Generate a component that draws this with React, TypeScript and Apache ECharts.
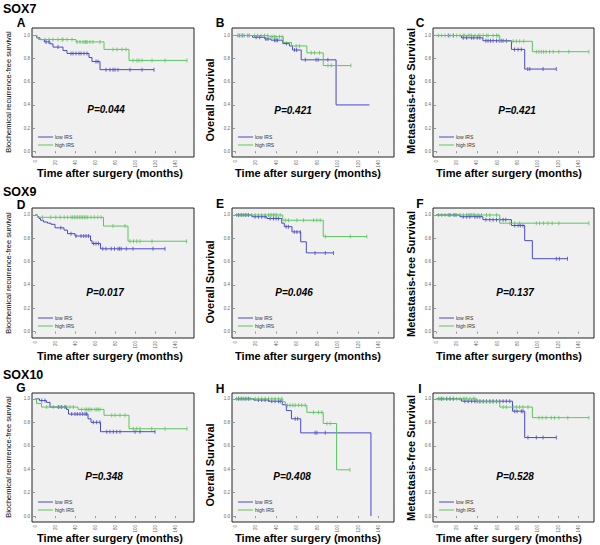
import React, { useEffect, useRef } from "react";
import * as echarts from "echarts";

// ---- tick labels / texts ----
const xTicks = [0, 20, 40, 60, 80, 100, 120, 140];
const yTicks = [0, 0.2, 0.4, 0.6, 0.8, 1.0];
const groupLabels = ["low IRS", "high IRS"];
const markerNames = ["SOX7", "SOX9", "SOX10"];
const panelLetters = ["A", "B", "C", "D", "E", "F", "G", "H", "I"];
const pValues = ["P=0.044", "P=0.421", "P=0.421", "P=0.017", "P=0.046", "P=0.137", "P=0.348", "P=0.408", "P=0.528"];
const yTitles = ["Biochemical recurrence-free survival", "Overall Survival", "Metastasis-free Survival"];
const xTitle = "Time after surgery (months)";

// ---- Kaplan-Meier steps [month, survival] and censored times (months) ----
// SOX7
const lowA = [[0, 1], [1.7, 0.98], [5, 0.965], [9.3, 0.945], [15, 0.928], [18, 0.9], [28, 0.87], [32, 0.845], [54, 0.81], [57, 0.775], [65, 0.705], [119, 0.705]];
const lowACens = [11, 14, 23, 36, 38, 41, 44, 46, 49, 52, 61, 63, 71, 75, 78, 80, 83, 95, 107, 119];
const highA = [[0, 1], [2, 0.98], [3.5, 0.965], [41, 0.945], [69, 0.88], [94, 0.785], [152, 0.785]];
const highACens = [10, 14, 18, 23, 27, 28, 32, 37, 42, 45, 48, 50, 51, 52, 55, 58, 65, 78, 82, 87, 91, 98, 102, 104, 107, 117, 130, 152];

const lowB = [[0, 1], [17, 0.985], [29, 0.97], [35, 0.96], [46.5, 0.93], [53, 0.91], [56, 0.875], [64.5, 0.79], [98.5, 0.4], [131, 0.4]];
const lowBCens = [4, 7.5, 12.5, 20.5, 24, 30, 32, 38.5, 40, 41.5, 50, 58, 60, 68.5, 79, 81, 90.5];
const highB = [[0, 1], [33, 0.99], [47, 0.94], [55, 0.91], [70, 0.85], [86, 0.74], [113, 0.74]];
const highBCens = [2.6, 5.9, 9.1, 14, 18.9, 22, 25.4, 28.7, 31.9, 35.2, 36.8, 38.4, 40, 43.3, 45.9, 59.6, 62.9, 74.3, 77.5, 82.4, 90.6, 93.8, 113];

const lowC = [[0, 1], [25, 0.98], [46, 0.955], [74, 0.88], [87, 0.71], [118, 0.71]];
const lowCCens = [12, 17, 26.7, 30, 34.9, 37, 40.4, 43, 48.9, 51, 53.4, 56, 59.3, 62, 64, 65.8, 69, 77, 80.5, 83.7, 90, 92, 105, 118];
const highC = [[0, 1], [62.5, 0.95], [94.5, 0.86], [150, 0.86]];
const highCCens = [2.3, 5.5, 8.8, 13.7, 16.9, 20.2, 23.5, 26.7, 28.3, 31.6, 33.2, 34.9, 38.1, 41.4, 43, 46.3, 49.5, 51.1, 56, 59.3, 61, 69, 75.6, 78.8, 82, 86, 98.4, 101, 103.3, 105.5, 108, 111.4, 115, 120.5, 130.3, 150];

// SOX9
const lowD = [[0, 1], [2.5, 0.985], [4, 0.97], [5.5, 0.955], [8.5, 0.94], [12.5, 0.93], [16, 0.92], [20, 0.89], [29, 0.87], [32.5, 0.84], [40, 0.82], [55.5, 0.78], [57, 0.755], [65.5, 0.71], [130, 0.71]];
const lowDCens = [25.8, 36, 41, 46, 48.7, 51, 53.4, 58.7, 61, 63.4, 67.8, 71, 76.2, 79.5, 83, 84.6, 86.2, 91.3, 98, 118, 130];
const highD = [[0, 1], [2.5, 0.98], [68.5, 0.905], [93, 0.775], [151.5, 0.775]];
const highDCens = [7.4, 15.8, 20.8, 25.2, 29.2, 32.6, 36, 37.6, 39.3, 40.9, 42.6, 44.3, 46, 47.6, 49.3, 51, 52.7, 56, 59.4, 62.8, 66.1, 78, 90, 95, 98.5, 101.7, 105, 117, 151.5];

const lowE = [[0, 1], [16.5, 0.985], [31, 0.97], [45.5, 0.93], [48, 0.9], [55.5, 0.855], [64, 0.77], [69.5, 0.675], [96, 0.675]];
const lowECens = [3.3, 6.5, 9.8, 13, 19.5, 22.8, 26, 29.3, 34.2, 37.5, 40, 42.3, 49.8, 52, 57.7, 60.3, 63.5, 78, 88, 96];
const highE = [[0, 1], [46.5, 0.955], [86, 0.815], [128.5, 0.815]];
const highECens = [1.6, 4.9, 8.1, 11.4, 16.3, 19.5, 22.8, 26, 29.3, 32.6, 34.2, 35.8, 37.5, 39, 40.7, 44, 49, 52, 60.3, 66.8, 76.5, 79.8, 83, 88, 112.4, 128.5];

const lowF = [[0, 1], [23.5, 0.985], [46, 0.96], [74, 0.91], [87, 0.78], [94.5, 0.625], [129, 0.625]];
const lowFCens = [13.7, 18.6, 26.7, 30, 33.2, 38.1, 40.4, 43, 48.9, 52.8, 56, 59.3, 62.5, 65.8, 68.4, 77.2, 80.5, 82.7, 85.3, 118, 121, 129];
const highF = [[0, 1], [62.5, 0.93], [150, 0.93]];
const highFCens = [2.3, 5.5, 8.8, 12, 17, 20.2, 23.5, 26.7, 30, 31.6, 33.2, 34.9, 36.5, 38.1, 41.4, 44.6, 49.5, 52.8, 59.3, 72.3, 77.2, 82, 98.4, 101.6, 105.5, 109.8, 114, 120.5, 150];

// SOX10
const lowG = [[0, 1], [4.5, 0.985], [11.5, 0.97], [15, 0.93], [31.5, 0.91], [33.5, 0.87], [53, 0.83], [56, 0.8], [65.5, 0.72], [120, 0.72]];
const lowGCens = [6.7, 10, 23.3, 26.7, 30, 36.7, 40, 42.3, 45, 47.7, 50, 51.7, 58.3, 61.7, 65, 71.7, 75, 78.3, 81.7, 85, 100, 105, 120];
const highG = [[0, 1], [1.5, 0.96], [6.5, 0.93], [43, 0.91], [69, 0.86], [94, 0.745], [152, 0.745]];
const highGCens = [11.7, 18.3, 25, 30, 31.7, 35, 38.3, 46.7, 50, 51.7, 53.3, 55, 56.7, 60, 61.7, 63.3, 65, 76.7, 80, 85, 90, 98.3, 101.7, 105, 116.7, 130, 152];

const lowH = [[0, 1], [18, 0.99], [33, 0.98], [46, 0.95], [50, 0.9], [55, 0.83], [64, 0.71], [132.5, 0.71], [132.5, 0]];
const lowHCens = [3.3, 6.5, 9.8, 13, 22.8, 26, 29.3, 32.6, 35.8, 39, 42.3, 44, 58.6, 61, 78, 79.8, 88];
const highH = [[0, 1], [46.5, 0.975], [49, 0.945], [70, 0.885], [86, 0.79], [99, 0.395], [112, 0.395]];
const highHCens = [1.6, 4.9, 8.1, 11.4, 14.7, 19.5, 22.8, 26, 29.3, 32.6, 35.8, 39, 42.3, 45.6, 51, 53.7, 56.4, 58.6, 62, 65, 68.4, 76.5, 81.4, 84.7, 89.6, 92.8, 112];

const lowI = [[0, 1], [25, 0.98], [75, 0.895], [87, 0.67], [118, 0.67]];
const lowICens = [5.5, 10.4, 13.7, 17, 28.3, 31.6, 34.9, 38.1, 40.4, 43, 46.3, 49.5, 52.8, 56, 59.3, 62.5, 65.8, 69, 72.3, 77.2, 79.5, 83.7, 85.3, 90.2, 98.4, 105, 118];
const highI = [[0, 1], [40, 0.975], [62.5, 0.93], [94.5, 0.84], [150, 0.84]];
const highICens = [2.3, 3.9, 7.2, 10.4, 13.7, 17, 20.2, 23.5, 26.7, 28.3, 30, 33.2, 36.5, 38.1, 43, 46.3, 49.5, 52.8, 56, 59.3, 65.8, 69, 75.6, 78.8, 82, 85.3, 90.2, 101, 104.2, 108, 113, 116.3, 120.5, 129.3, 150];

const panels = [
  { low: lowA, lowCens: lowACens, high: highA, highCens: highACens },
  { low: lowB, lowCens: lowBCens, high: highB, highCens: highBCens },
  { low: lowC, lowCens: lowCCens, high: highC, highCens: highCCens },
  { low: lowD, lowCens: lowDCens, high: highD, highCens: highDCens },
  { low: lowE, lowCens: lowECens, high: highE, highCens: highECens },
  { low: lowF, lowCens: lowFCens, high: highF, highCens: highFCens },
  { low: lowG, lowCens: lowGCens, high: highG, highCens: highGCens },
  { low: lowH, lowCens: lowHCens, high: highH, highCens: highHCens },
  { low: lowI, lowCens: lowICens, high: highI, highCens: highICens },
];

// ---- layout / style ----
const FONT = "'Liberation Sans', Arial, sans-serif";
const LOW_COLOR = "#4a4ac6";
const HIGH_COLOR = "#5cc65c";
const colLeft = [32, 232, 433];
const colWidth = [162, 162, 161];
const rowTop = [28, 208, 393];
const rowHeight = [129, 130, 129];
const colXRange = [[-3, 159], [-3, 155], [-3, 155]];
const rowYRange = [[-0.05, 1.065], [-0.055, 1.06], [-0.05, 1.05]];
const markerPos = [[3, 8.5], [3, 192], [3, 374.5]];
const letterPos = [[21, 22.5], [220, 23], [420, 23], [21, 205], [220, 204], [420, 204], [21, 388], [220, 388.5], [420, 389]];
const pPos = [[106, 109], [293, 110], [517, 110], [105, 292], [294, 292], [515, 292], [104, 476], [292, 476], [515, 476]];
const yTitleX = [8, 210, 411];
const yTitleY = [[92, 100, 91], [273, 282, 274], [457, 465, 458]];
const xTitleX = [110, 308, 509];
const xTitleY = [173, 356, 538];

function survivalAt(steps: number[][], t: number) {
  let s = steps[0][1];
  for (const [tt, v] of steps) if (tt <= t) s = v;
  return s;
}

export default function App() {
  const ref = useRef<HTMLDivElement>(null);
  useEffect(() => {
    if (!ref.current) return;
    const chart = echarts.init(ref.current, null, { renderer: "svg" });
    const grids: any[] = [];
    const xAxes: any[] = [];
    const yAxes: any[] = [];
    const series: any[] = [];
    const graphics: any[] = [];

    panels.forEach((p, i) => {
      const r = Math.floor(i / 3);
      const c = i % 3;
      const left = colLeft[c];
      const top = rowTop[r];
      const width = colWidth[c];
      const height = rowHeight[r];
      grids.push({
        left, top, width, height,
        show: true, backgroundColor: "#f0f0f0", borderColor: "#222", borderWidth: 1,
      });
      xAxes.push({
        type: "value", gridIndex: i, min: colXRange[c][0], max: colXRange[c][1],
        axisLine: { show: false }, splitLine: { show: false },
        axisTick: { show: true, length: 2, customValues: xTicks, lineStyle: { color: "#555", width: 0.6 } },
        axisLabel: { show: true, customValues: xTicks, rotate: 90, fontSize: 4.5, color: "#666", margin: 3, fontFamily: FONT },
      });
      yAxes.push({
        type: "value", gridIndex: i, min: rowYRange[r][0], max: rowYRange[r][1],
        axisLine: { show: false }, splitLine: { show: false },
        axisTick: { show: true, length: 2, customValues: yTicks, lineStyle: { color: "#555", width: 0.6 } },
        axisLabel: { show: true, customValues: yTicks, fontSize: 4.5, color: "#666", margin: 2, fontFamily: FONT, formatter: (v: number) => v.toFixed(1) },
      });
      const groups: [string, number[][], number[], string][] = [
        [groupLabels[0], p.low, p.lowCens, LOW_COLOR],
        [groupLabels[1], p.high, p.highCens, HIGH_COLOR],
      ];
      groups.forEach(([name, steps, cens, color]) => {
        series.push({
          type: "line", name, xAxisIndex: i, yAxisIndex: i, step: "end", data: steps,
          symbol: "none", silent: true, lineStyle: { color, width: 1 }, itemStyle: { color },
        });
        series.push({
          type: "scatter", name, xAxisIndex: i, yAxisIndex: i,
          data: cens.map((t) => [t, survivalAt(steps, t)]),
          symbol: "rect", symbolSize: [1, 4], silent: true, itemStyle: { color },
        });
      });

      // panel letter
      graphics.push({ type: "text", x: letterPos[i][0], y: letterPos[i][1],
        style: { text: panelLetters[i], font: `bold 12px ${FONT}`, fill: "#000", align: "center", verticalAlign: "middle", lineHeight: 11 } });
      // y title
      const yt = yTitles[c];
      graphics.push({ type: "text", x: yTitleX[c], y: yTitleY[r][c], rotation: Math.PI / 2,
        style: { text: yt, font: c === 0 ? `7.5px ${FONT}` : `bold 11px ${FONT}`, fill: "#000", align: "center", verticalAlign: "middle" } });
      // x title
      graphics.push({ type: "text", x: xTitleX[c], y: xTitleY[r],
        style: { text: xTitle, font: `bold 11px ${FONT}`, fill: "#000", align: "center", verticalAlign: "middle" } });
      // p value
      graphics.push({ type: "text", x: pPos[i][0], y: pPos[i][1],
        style: { text: pValues[i], font: `italic bold 10px ${FONT}`, fill: "#000", align: "center", verticalAlign: "middle" } });
      // legend
      const lx = left + 6;
      const ly1 = top + height - 20;
      const ly2 = top + height - 12;
      graphics.push({ type: "line", shape: { x1: lx, y1: ly1, x2: lx + 15, y2: ly1 }, style: { stroke: LOW_COLOR, lineWidth: 1 } });
      graphics.push({ type: "line", shape: { x1: lx, y1: ly2, x2: lx + 15, y2: ly2 }, style: { stroke: HIGH_COLOR, lineWidth: 1 } });
      graphics.push({ type: "text", x: lx + 17, y: ly1, style: { text: groupLabels[0], font: `5px ${FONT}`, fill: "#333", verticalAlign: "middle" } });
      graphics.push({ type: "text", x: lx + 17, y: ly2, style: { text: groupLabels[1], font: `5px ${FONT}`, fill: "#333", verticalAlign: "middle" } });
    });

    markerNames.forEach((m, r) => {
      graphics.push({ type: "text", x: markerPos[r][0], y: markerPos[r][1],
        style: { text: m, font: `bold 12.5px ${FONT}`, fill: "#000", verticalAlign: "middle", lineHeight: 11 } });
    });

    chart.setOption({
      animation: false,
      backgroundColor: "#fff",
      grid: grids,
      xAxis: xAxes,
      yAxis: yAxes,
      series,
      graphic: graphics,
    });
    return () => chart.dispose();
  }, []);
  return <div ref={ref} style={{ position: "fixed", left: 0, top: 0, width: 600, height: 545, background: "#fff" }} />;
}
